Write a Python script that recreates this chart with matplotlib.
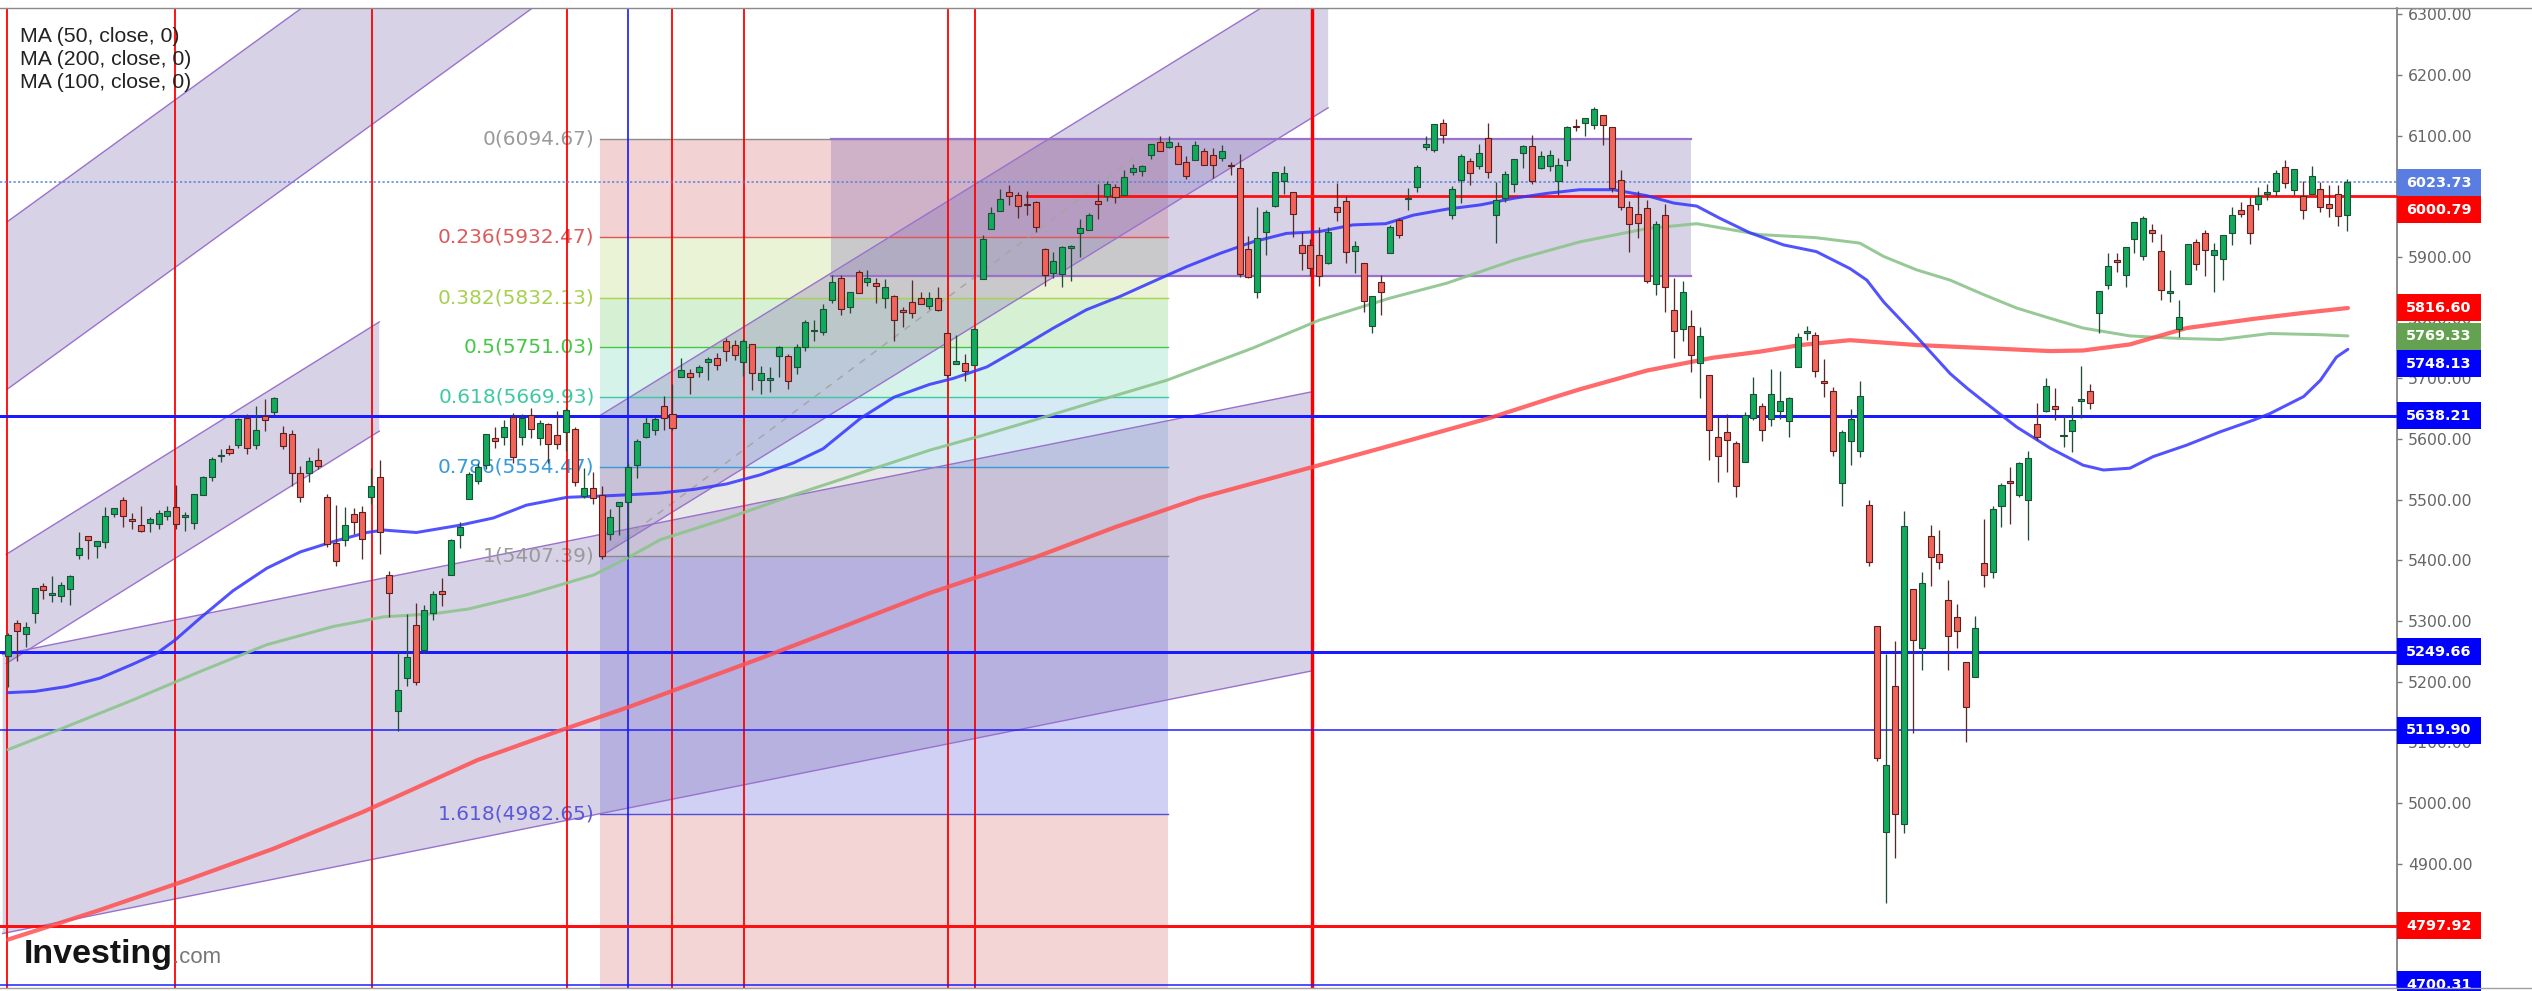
import numpy as np
import matplotlib
matplotlib.use("Agg")
import matplotlib.pyplot as plt
from matplotlib.patches import Rectangle, Polygon
from matplotlib.lines import Line2D
from matplotlib.transforms import blended_transform_factory

# ---------------- data (S&P 500 daily candles) ----------------
opens = [
    5243, 5297, 5278, 5314, 5357, 5343, 5341, 5353, 5409, 5441,
    5424, 5431, 5477, 5499, 5467, 5459, 5461, 5460, 5473, 5488,
    5471, 5461, 5507, 5537, 5572, 5584, 5591, 5635, 5590, 5638,
    5644, 5610, 5608, 5544, 5544, 5565, 5505, 5428, 5433, 5476,
    5479, 5505, 5537, 5376, 5151, 5206, 5293, 5253, 5314, 5350,
    5376, 5442, 5502, 5531, 5557, 5602, 5603, 5637, 5604, 5639,
    5602, 5624, 5607, 5612, 5616, 5506, 5520, 5507, 5443, 5490,
    5496, 5557, 5603, 5615, 5655, 5641, 5703, 5709, 5711, 5727,
    5733, 5762, 5755, 5727, 5757, 5698, 5698, 5737, 5737, 5719,
    5751, 5778, 5776, 5829, 5866, 5817, 5875, 5859, 5857, 5833,
    5835, 5813, 5826, 5833, 5819, 5832, 5775, 5724, 5725, 5722,
    5864, 5947, 5976, 6008, 6003, 5986, 5990, 5913, 5874, 5872,
    5915, 5940, 5944, 5992, 6000, 6015, 6003, 6040, 6042, 6069,
    6089, 6081, 6083, 6057, 6060, 6074, 6068, 6063, 6052, 6047,
    5913, 5843, 5941, 5984, 6025, 6007, 5920, 5920, 5904, 5891,
    5982, 5993, 5910, 5890, 5786, 5859, 5906, 5961, 5995, 6015,
    6081, 6076, 6121, 5969, 6027, 6058, 6050, 6096, 5970, 5998,
    6021, 6072, 6083, 6046, 6050, 6026, 6060, 6116, 6121, 6117,
    6134, 6114, 6027, 5982, 5971, 5981, 5856, 5969, 5812, 5781,
    5786, 5726, 5705, 5603, 5612, 5594, 5563, 5635, 5655, 5633,
    5646, 5630, 5718, 5775, 5771, 5696, 5679, 5527, 5597, 5581,
    5492, 5292, 4953, 5193, 4966, 5353, 5256, 5441, 5411, 5335,
    5306, 5232, 5207, 5395, 5381, 5489, 5529, 5508, 5500, 5625,
    5646, 5655, 5605, 5613, 5663, 5679, 5807, 5854, 5895, 5870,
    5929, 5902, 5944, 5910, 5841, 5781, 5855, 5925, 5939, 5903,
    5897, 5939, 5978, 5985, 5988, 6004, 6009, 6049, 6010, 6000,
    6004, 6012, 5987, 6004, 5970,
]
highs = [
    5280, 5302, 5298, 5354, 5362, 5375, 5365, 5376, 5447, 5441,
    5432, 5488, 5487, 5505, 5478, 5490, 5472, 5483, 5490, 5524,
    5480, 5510, 5539, 5570, 5583, 5590, 5635, 5642, 5655, 5666,
    5669, 5622, 5615, 5555, 5570, 5586, 5509, 5491, 5488, 5487,
    5489, 5552, 5566, 5383, 5250, 5312, 5330, 5326, 5350, 5371,
    5436, 5463, 5546, 5561, 5608, 5620, 5632, 5643, 5642, 5651,
    5631, 5627, 5646, 5651, 5620, 5552, 5546, 5522, 5484, 5497,
    5560, 5600, 5636, 5636, 5671, 5690, 5734, 5715, 5722, 5735,
    5742, 5767, 5764, 5765, 5757, 5720, 5718, 5753, 5740, 5757,
    5796, 5796, 5822, 5871, 5871, 5843, 5879, 5878, 5866, 5863,
    5838, 5817, 5862, 5842, 5842, 5850, 5775, 5772, 5741, 5783,
    5936, 5983, 6012, 6018, 6008, 6009, 5993, 5915, 5909, 5919,
    5920, 5963, 5973, 6021, 6026, 6020, 6044, 6053, 6052, 6087,
    6100, 6099, 6089, 6066, 6092, 6079, 6079, 6085, 6057, 6070,
    5935, 5982, 5978, 6041, 6050, 6007, 5941, 5929, 5949, 5949,
    6022, 6000, 5927, 5890, 5836, 5871, 5953, 5964, 6014, 6051,
    6100, 6119, 6128, 6017, 6070, 6063, 6087, 6121, 6023, 6042,
    6062, 6084, 6101, 6074, 6076, 6063, 6116, 6127, 6130, 6147,
    6134, 6115, 6044, 5992, 6009, 5994, 5959, 5987, 5866, 5860,
    5812, 5785, 5705, 5636, 5642, 5597, 5645, 5703, 5659, 5715,
    5712, 5670, 5775, 5786, 5777, 5732, 5685, 5615, 5650, 5695,
    5500, 5292, 5246, 5267, 5481, 5353, 5381, 5459, 5450, 5367,
    5328, 5232, 5309, 5469, 5489, 5528, 5554, 5562, 5581, 5659,
    5700, 5684, 5640, 5654, 5720, 5691, 5844, 5906, 5906, 5916,
    5958, 5968, 5954, 5938, 5878, 5829, 5922, 5929, 5944, 5923,
    5937, 5982, 5990, 5999, 6016, 6021, 6043, 6060, 6045, 6026,
    6050, 6024, 6019, 6018, 6028,
]
lows = [
    5191, 5234, 5257, 5297, 5336, 5331, 5331, 5327, 5403, 5403,
    5404, 5420, 5471, 5455, 5452, 5447, 5446, 5451, 5467, 5452,
    5448, 5451, 5507, 5531, 5562, 5574, 5586, 5576, 5583, 5614,
    5639, 5584, 5523, 5497, 5529, 5550, 5422, 5390, 5423, 5444,
    5403, 5493, 5410, 5306, 5119, 5193, 5195, 5247, 5301, 5325,
    5376, 5420, 5501, 5526, 5550, 5585, 5591, 5560, 5590, 5602,
    5590, 5560, 5583, 5581, 5522, 5503, 5493, 5403, 5434, 5442,
    5406, 5535, 5601, 5606, 5615, 5615, 5703, 5675, 5702, 5698,
    5714, 5728, 5730, 5704, 5681, 5674, 5677, 5702, 5683, 5707,
    5745, 5762, 5772, 5825, 5804, 5808, 5840, 5852, 5825, 5816,
    5762, 5784, 5799, 5823, 5815, 5811, 5703, 5723, 5696, 5722,
    5864, 5947, 5976, 5986, 5965, 5969, 5942, 5853, 5866, 5850,
    5860, 5900, 5944, 5963, 5992, 5989, 6003, 6035, 6034, 6061,
    6075, 6080, 6053, 6029, 6060, 6051, 6031, 6059, 6036, 5867,
    5866, 5832, 5903, 5982, 6004, 5933, 5879, 5869, 5853, 5888,
    5960, 5890, 5874, 5809, 5774, 5805, 5906, 5931, 5978, 6007,
    6077, 6073, 6088, 5962, 5989, 6018, 6045, 6030, 5923, 5990,
    6007, 6046, 6020, 6045, 6042, 6003, 6050, 6107, 6099, 6111,
    6084, 6008, 5977, 5909, 5932, 5858, 5837, 5810, 5733, 5762,
    5711, 5667, 5565, 5529, 5546, 5505, 5562, 5631, 5597, 5622,
    5633, 5603, 5718, 5764, 5703, 5670, 5572, 5489, 5558, 5571,
    5390, 5069, 4835, 4910, 4950, 5115, 5220, 5358, 5386, 5220,
    5255, 5101, 5207, 5356, 5371, 5455, 5460, 5505, 5433, 5599,
    5645, 5631, 5587, 5579, 5634, 5650, 5775, 5847, 5876, 5851,
    5907, 5895, 5924, 5830, 5826, 5768, 5855, 5878, 5869, 5843,
    5862, 5920, 5966, 5921, 5978, 5994, 6000, 6013, 6003, 5963,
    6004, 5974, 5966, 5952, 5943,
]
closes = [
    5277, 5283, 5291, 5354, 5352, 5347, 5360, 5375, 5421, 5433,
    5432, 5473, 5487, 5473, 5465, 5448, 5469, 5478, 5482, 5460,
    5475, 5509, 5537, 5567, 5573, 5577, 5633, 5585, 5615, 5631,
    5667, 5589, 5544, 5505, 5564, 5555, 5427, 5399, 5459, 5464,
    5436, 5522, 5446, 5347, 5186, 5240, 5199, 5319, 5344, 5344,
    5434, 5455, 5543, 5554, 5608, 5597, 5620, 5571, 5634, 5617,
    5626, 5592, 5592, 5648, 5529, 5520, 5503, 5408, 5471, 5496,
    5554, 5596, 5626, 5633, 5634, 5618, 5714, 5703, 5718, 5732,
    5722, 5745, 5738, 5762, 5709, 5709, 5700, 5751, 5696, 5751,
    5793, 5780, 5815, 5859, 5815, 5842, 5841, 5865, 5853, 5851,
    5797, 5809, 5808, 5823, 5832, 5813, 5705, 5729, 5712, 5782,
    5929, 5973, 5996, 6001, 5984, 5985, 5949, 5871, 5894, 5917,
    5917, 5948, 5969, 5987, 6021, 5999, 6032, 6047, 6050, 6086,
    6075, 6090, 6053, 6034, 6085, 6051, 6051, 6074, 6050, 5872,
    5867, 5931, 5975, 6041, 6038, 5971, 5907, 5882, 5869, 5942,
    5975, 5909, 5918, 5827, 5836, 5843, 5950, 5937, 5997, 6049,
    6086, 6119, 6101, 6012, 6067, 6039, 6071, 6041, 5994, 6037,
    6061, 6083, 6026, 6066, 6069, 6052, 6115, 6114, 6129, 6144,
    6118, 6013, 5983, 5955, 5956, 5861, 5955, 5850, 5778, 5843,
    5739, 5770, 5615, 5572, 5599, 5522, 5639, 5675, 5615, 5675,
    5663, 5668, 5768, 5777, 5712, 5693, 5581, 5612, 5633, 5671,
    5397, 5074, 5062, 4982, 5457, 5268, 5363, 5406, 5397, 5276,
    5283, 5158, 5288, 5376, 5485, 5525, 5528, 5561, 5569, 5604,
    5687, 5650, 5607, 5631, 5664, 5660, 5844, 5886, 5892, 5916,
    5958, 5964, 5940, 5845, 5842, 5802, 5922, 5888, 5912, 5912,
    5936, 5970, 5971, 5939, 6000, 6006, 6039, 6022, 6045, 5977,
    6033, 5983, 5981, 5968, 6024,
]

# moving averages, sampled along the curves (x = candle number)
ma50_x = [0, 3, 6.6, 10.4, 14.1, 16.8, 18.8, 21.7, 25.4, 29.2, 33, 36.7, 40.5, 42.4, 46.1, 51,
          54.8, 58.5, 63.1, 66.8, 69.8, 73.6, 77.4, 81.1, 84.9, 88.7, 92, 96.2, 100, 104, 106.7,
          110.5, 114.2, 118, 121.7, 125.5, 129.3, 133, 136.8, 140.5, 144.3, 148, 151.8, 155.5,
          158.6, 162.4, 166.2, 170, 173.7, 177.4, 181.2, 185, 188, 190.6, 193.2, 196.6, 200.4,
          204.1, 207.9, 209.8, 211.7, 215.4, 219.2, 221.1, 223, 226.7, 230.5, 234.2, 236.5,
          239.5, 242.1, 245.9, 249.7, 253.4, 255.3, 259.1, 261, 262.8, 264.1]
ma50_y = [5182, 5184, 5192, 5206, 5229, 5247, 5268, 5305, 5350, 5387, 5414, 5431, 5446, 5450, 5446, 5458,
          5470, 5491, 5504, 5506, 5508, 5511, 5517, 5526, 5541, 5561, 5584, 5634, 5669, 5690, 5700,
          5719, 5750, 5783, 5813, 5835, 5860, 5884, 5906, 5925, 5939, 5942, 5953, 5955,
          5969, 5979, 5986, 5997, 6005, 6011, 6011, 6001, 5989, 5984, 5964, 5940, 5920,
          5909, 5881, 5862, 5826, 5769, 5708, 5684, 5662, 5620, 5585, 5557, 5549,
          5552, 5571, 5590, 5612, 5631, 5642, 5670, 5697, 5735, 5748]
ma100_x = [0, 6.6, 14.1, 21.7, 29.2, 36.7, 42.4, 48, 52, 58.5, 66.1, 69.8, 73.6, 81.1, 88.7, 96.2,
           104.1, 110, 116, 123.2, 130.8, 140.5, 148, 155.9, 162.4, 170, 177.4, 185, 190.6, 197.7,
           204, 209, 211.7, 215.4, 219.2, 223, 226.7, 230.5, 234.2, 239.5, 244.8, 249.7, 255.3, 261, 264.1]
ma100_y = [5088, 5126, 5170, 5217, 5261, 5291, 5307, 5312, 5320, 5343, 5376, 5403, 5434, 5469, 5508, 5544,
           5582, 5606, 5632, 5664, 5697, 5750, 5796, 5832, 5857, 5895, 5925, 5947, 5955, 5937,
           5932, 5923, 5901, 5879, 5862, 5838, 5816, 5799, 5783, 5770, 5766, 5764, 5774, 5772, 5770]
ma200_x = [0, 10, 20, 30, 40, 53, 62, 70, 85, 95, 104, 115, 125, 134.5, 145, 155, 167.3, 174.3, 177.4,
           185, 192.4, 197.7, 202.3, 207.9, 215.4, 223, 230.5, 234.2, 239.5, 245.9, 253.4, 259.1, 264.1]
ma200_y = [4775, 4822, 4872, 4925, 4985, 5071, 5118, 5158, 5239, 5295, 5346, 5400, 5455, 5503, 5545, 5585,
           5635, 5668, 5682, 5713, 5734, 5744, 5755, 5763, 5755, 5750, 5745, 5746, 5756, 5783, 5798, 5808, 5816]
ma_legend = ["MA (50, close, 0)", "MA (200, close, 0)", "MA (100, close, 0)"]

# Fibonacci retracement
fib_names = ["0", "0.236", "0.382", "0.5", "0.618", "0.786", "1", "1.618"]
fib_prices = [6094.67, 5932.47, 5832.13, 5751.03, 5669.93, 5554.47, 5407.39, 4982.65]
fib_span = (66.8, 130.9)

# drawn channels: (x start, lower start, x end, lower end, height)
channels = [
    (-0.1, 5682, 80.0, 6531, 276),
    (-0.2, 5230, 41.9, 5613, 180),
    (66.8, 5406, 149.0, 6146, 232.6),
    (-0.6, 4785, 147.2, 5218, 460),
]
range_box = (92.9, 190.0, 5868, 6094.67)
trend_x = [67.0, 127.0]
trend_y = [5407.4, 6062.0]

red_vlines = [-0.1, 18.9, 41.1, 63.1, 75.0, 83.1, 106.1, 109.1]
year_vline = 147.2
blue_vline = 70.0

blue_thick_levels = [5638.21, 5249.66]
blue_thin_levels = [5119.90, 4700.31]
red_thick_levels = [4797.92]
resistance = 6000.79
resistance_start = 115.0
last_price = 6023.73

label_values = [6023.73, 6000.79, 5816.60, 5769.33, 5748.13, 5638.21, 5249.66, 5119.90, 4797.92, 4700.31]
label_centers = [6022.3, 5977.6, 5816.60, 5769.33, 5724.0, 5638.21, 5249.66, 5119.90, 4797.92, 4700.31]
label_colors = ['#5a7de1', '#ff0000', '#ff0000', '#64a251', '#0000ff', '#0000ff', '#0000ff', '#0000ff',
                '#ff0000', '#0000ff']
yticks = list(range(4800, 6301, 100))

# ---------------- figure ----------------
W, H, DPI = 2532, 991, 100
PX = 72.0 / DPI
fig = plt.figure(figsize=(W / DPI, H / DPI), dpi=DPI)
fig.patch.set_facecolor('white')
AX_L, AX_R, AX_T, AX_B = 0, 2397, 8, 988
ax = fig.add_axes([AX_L / W, (H - AX_B) / H, (AX_R - AX_L) / W, (AX_B - AX_T) / H])
ax.set_xlim(-0.903, 269.64)
ax.set_ylim(4695.2, 6310.5)
ax.set_facecolor('white')
ymin = ax.get_ylim()[0]

# Fibonacci fills, lines, labels
fib_fill = ['#f2d2d2', '#eaf3d6', '#d6f0d4', '#d6f3ea', '#d6eaf6', '#e8e8e8', '#d0d0f5', '#f3d5d5']
fib_line = ['#8c8c8c', '#e05555', '#a8d448', '#46c846', '#3ec9a2', '#3a9ad9', '#8c8c8c', '#5050d8']
fib_text = ['#9a9a9a', '#dc5a5a', '#a8d050', '#46c846', '#3ec9a2', '#3a9ad9', '#9a9a9a', '#5a5ad8']
x0f, x1f = fib_span
bounds = fib_prices + [ymin - 50]
for i in range(len(fib_prices)):
    ax.add_patch(Rectangle((x0f, bounds[i + 1]), x1f - x0f, bounds[i] - bounds[i + 1],
                           fc=fib_fill[i], ec='none', zorder=1))
for i, p in enumerate(fib_prices):
    ax.plot([x0f, x1f], [p, p], color=fib_line[i], lw=1.4 * PX, zorder=3)
    ax.text(x0f - 0.6, p, f"{fib_names[i]}({p:.2f})", ha='right', va='center',
            color=fib_text[i], fontsize=14.5, family='DejaVu Sans', zorder=3.5)

# channels
CH_FILL = '#7e6ab2'
CH_EDGE = '#9a72cc'
for (x0, l0, x1, l1, w) in channels:
    ax.add_patch(Polygon([(x0, l0), (x1, l1), (x1, l1 + w), (x0, l0 + w)], closed=True,
                         fc=CH_FILL, alpha=0.3, ec='none', zorder=2))
    ax.plot([x0, x1], [l0, l1], color=CH_EDGE, lw=1.4 * PX, zorder=3)
    ax.plot([x0, x1], [l0 + w, l1 + w], color=CH_EDGE, lw=1.4 * PX, zorder=3)
bx0, bx1, by0, by1 = range_box
ax.add_patch(Rectangle((bx0, by0), bx1 - bx0, by1 - by0, fc=CH_FILL, alpha=0.3, ec='none', zorder=2))
ax.plot([bx0, bx1], [by0, by0], color=CH_EDGE, lw=2.2 * PX, zorder=3)
ax.plot([bx0, bx1], [by1, by1], color=CH_EDGE, lw=2.2 * PX, zorder=3)
ax.plot(trend_x, trend_y, color='#a4a4a4', lw=1.4 * PX, ls=(0, (5, 5)), zorder=3)

# vertical and horizontal lines
for v in red_vlines:
    ax.axvline(v, color='#ff0000', lw=1.8 * PX, zorder=4)
ax.axvline(year_vline, color='#ff0000', lw=3.4 * PX, zorder=4)
ax.axvline(blue_vline, color='#1010ff', lw=1.6 * PX, zorder=4)
for v in blue_thick_levels:
    ax.axhline(v, color='#1a1aff', lw=3.0 * PX, zorder=4)
for v in blue_thin_levels:
    ax.axhline(v, color='#1a1aff', lw=1.5 * PX, zorder=4)
for v in red_thick_levels:
    ax.axhline(v, color='#ff1010', lw=3.0 * PX, zorder=4)
ax.plot([resistance_start, ax.get_xlim()[1]], [resistance, resistance], color='#ff1010',
        lw=2.8 * PX, zorder=4)
ax.axhline(last_price, color='#5a7de1', lw=1.5 * PX, ls=(0, (1.5, 1.5)), zorder=4)

# moving averages
ax.plot(ma100_x, ma100_y, color='#8cc48c', lw=3.0 * PX, alpha=0.9, zorder=5, solid_capstyle='round')
ax.plot(ma200_x, ma200_y, color='#ff5050', lw=4.2 * PX, alpha=0.85, zorder=5, solid_capstyle='round')
ax.plot(ma50_x, ma50_y, color='#3434ff', lw=3.0 * PX, alpha=0.85, zorder=5, solid_capstyle='round')

# candles
o = np.array(opens, float); h = np.array(highs, float)
l = np.array(lows, float); c = np.array(closes, float)
idx = np.arange(len(c))
up = c >= o
lo_b = np.minimum(o, c)
hb = np.maximum(np.abs(c - o), 2.5)
ax.vlines(idx[up], l[up], h[up], color='#1f4d35', lw=1.3 * PX, zorder=6)
ax.vlines(idx[~up], l[~up], h[~up], color='#5a2a2a', lw=1.3 * PX, zorder=6)
ax.bar(idx[up], hb[up], bottom=lo_b[up], width=0.68, color='#12aa5c', edgecolor='#1f4d35',
       linewidth=1.1 * PX, zorder=7)
ax.bar(idx[~up], hb[~up], bottom=lo_b[~up], width=0.68, color='#f0645a', edgecolor='#5a2020',
       linewidth=1.1 * PX, zorder=7)

# axis styling
ax.yaxis.tick_right()
ax.set_yticks(yticks)
ax.set_yticklabels([f"{v:.2f}" for v in yticks])
ax.tick_params(axis='y', which='major', direction='out', length=5 * PX, width=1.4 * PX,
               color='#7a7a7a', pad=6 * PX, labelsize=11.3, labelcolor='#666666')
ax.set_xticks([])
for s in ['left', 'top', 'bottom']:
    ax.spines[s].set_visible(False)
ax.spines['right'].set_color('#7a7a7a')
ax.spines['right'].set_linewidth(1.7 * PX)
fig.add_artist(Line2D([0, 1], [(H - AX_T) / H] * 2, transform=fig.transFigure, color='#8a8a8a', lw=1.4 * PX))
fig.add_artist(Line2D([0, 1], [(H - AX_B) / H] * 2, transform=fig.transFigure, color='#a0a0a0', lw=1.4 * PX))

# price labels on the axis
tr = blended_transform_factory(ax.transAxes, ax.transData)
box_w = 84.0 / (AX_R - AX_L)
box_h = 27.0 / ((AX_B - AX_T) / (ax.get_ylim()[1] - ax.get_ylim()[0]))
for val, yc, col in zip(label_values, label_centers, label_colors):
    ax.add_patch(Rectangle((1.0, yc - box_h / 2), box_w, box_h, transform=tr, fc=col, ec='none',
                           clip_on=False, zorder=20))
    ax.text(1.0 + box_w / 2, yc, f"{val:.2f}", transform=tr, ha='center', va='center', color='white',
            fontsize=10.4, fontweight='bold', family='DejaVu Sans', clip_on=False, zorder=21)

# legend text
for i, t in enumerate(ma_legend):
    fig.text(20 / W, (H - (42.3 + 22.7 * i)) / H, t, fontsize=15.3, family='Liberation Sans',
             color='#222222', va='baseline', ha='left')

# logo
fig.text(24 / W, (H - 963) / H, "Investing", fontsize=24.5, fontweight='bold', family='Liberation Sans',
         color='#151515', va='baseline', ha='left')
fig.text(173 / W, (H - 963) / H, ".com", fontsize=16, family='Liberation Sans', color='#777777',
         va='baseline', ha='left')

fig.savefig('out.png', dpi=DPI, facecolor='white')
